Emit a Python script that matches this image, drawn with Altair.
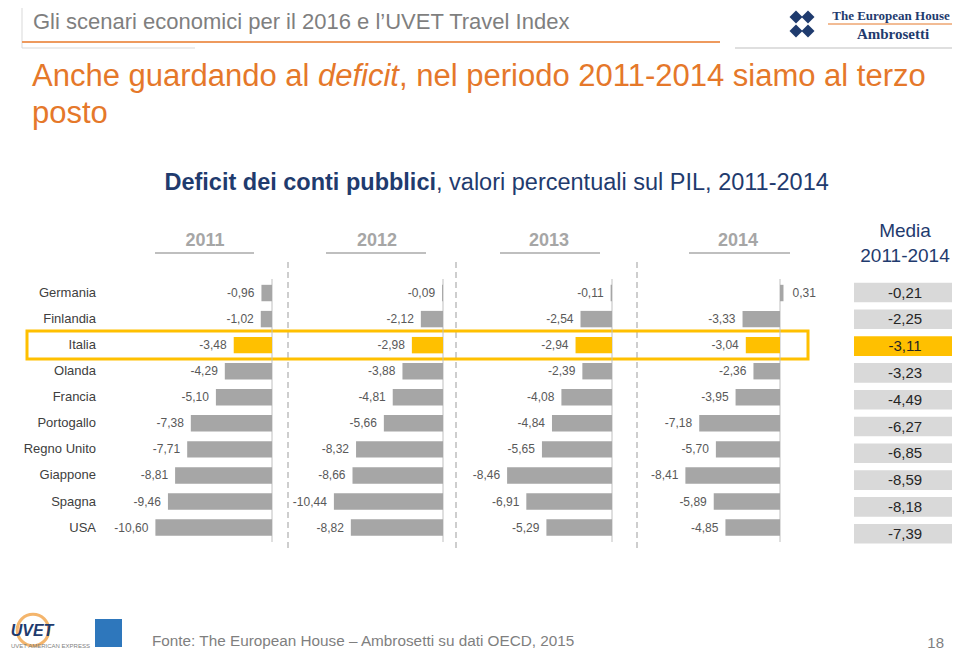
import altair as alt
import pandas as pd

# ---------------- data ----------------
countries = ["Germania", "Finlandia", "Italia", "Olanda", "Francia",
             "Portogallo", "Regno Unito", "Giappone", "Spagna", "USA"]
years = ["2011", "2012", "2013", "2014"]
v2011 = [-0.96, -1.02, -3.48, -4.29, -5.10, -7.38, -7.71, -8.81, -9.46, -10.60]
v2012 = [-0.09, -2.12, -2.98, -3.88, -4.81, -5.66, -8.32, -8.66, -10.44, -8.82]
v2013 = [-0.11, -2.54, -2.94, -2.39, -4.08, -4.84, -5.65, -8.46, -6.91, -5.29]
v2014 = [0.31, -3.33, -3.04, -2.36, -3.95, -7.18, -5.70, -8.41, -5.89, -4.85]
media = [-0.21, -2.25, -3.11, -3.23, -4.49, -6.27, -6.85, -8.59, -8.18, -7.39]
highlight = "Italia"


def fmt(v):
    return f"{v:.2f}".replace(".", ",")


rows = []
for yr, vals in zip(years, [v2011, v2012, v2013, v2014]):
    for c, v in zip(countries, vals):
        rows.append({"year": yr, "country": c, "value": v, "zero": 0.0, "label": fmt(v)})
df = pd.DataFrame(rows)
df_c = pd.DataFrame({"country": countries})
df_m = pd.DataFrame({"country": countries, "media": media,
                     "label": [fmt(v) for v in media], "col": ["Media"] * len(countries)})
ONE = pd.DataFrame({"a": [0]})

# ---------------- styles / layout ----------------
F = "Liberation Sans"
SERIF = "Liberation Serif"
GRAY = "#A6A6A6"
YEL = "#FFC000"
NAVY = "#1F3B6E"
ORANGE = "#E5782A"
OFF = 8


def P(v):
    return v - OFF


# page-pixel geometry of each panel: zero line position and pixels per unit
panel_zero = {"2011": 272, "2012": 443, "2013": 612, "2014": 780}
panel_ppu = {"2011": 11.0, "2012": 10.45, "2013": 12.4, "2014": 11.25}

ys_bars = alt.Scale(domain=countries, range=[P(280), P(540.6)],
                    paddingInner=0.37, paddingOuter=0.185)
ys_media = alt.Scale(domain=countries, range=[P(279.1), P(547.1)],
                     paddingInner=0.27, paddingOuter=0.135)


def txt(s, x, y, size, color, weight="normal", style="normal", align="left",
        baseline="alphabetic", font=F):
    return alt.Chart(ONE).mark_text(
        text=s, align=align, baseline=baseline, fontSize=size, color=color,
        fontWeight=weight, fontStyle=style, font=font
    ).encode(x=alt.value(P(x)), y=alt.value(P(y)))


def hline(x1, x2, y, color, w, dash=None):
    kw = dict(color=color, strokeWidth=w)
    if dash:
        kw["strokeDash"] = dash
    return alt.Chart(ONE).mark_rule(**kw).encode(
        x=alt.value(P(x1)), x2=alt.value(P(x2)), y=alt.value(P(y)))


def vline(x, y1, y2, color, w, dash=None):
    kw = dict(color=color, strokeWidth=w)
    if dash:
        kw["strokeDash"] = dash
    return alt.Chart(ONE).mark_rule(**kw).encode(
        x=alt.value(P(x)), y=alt.value(P(y1)), y2=alt.value(P(y2)))


def diamond(x, y, size, color):
    return alt.Chart(ONE).mark_point(
        shape="diamond", filled=True, color=color, size=size, opacity=1
    ).encode(x=alt.value(P(x)), y=alt.value(P(y)))


def panel(yr):
    z = panel_zero[yr]
    ppu = panel_ppu[yr]
    xs = alt.Scale(domain=[-11, 0], range=[P(z - 11 * ppu), P(z)], nice=False, zero=False)
    base = alt.Chart(df).transform_filter(alt.datum.year == yr)
    rule = alt.Chart(pd.DataFrame({"zero": [0.0]})).mark_rule(
        color="#BFBFBF", strokeWidth=1).encode(
        x=alt.X("zero:Q", scale=xs, axis=None),
        y=alt.value(P(279)), y2=alt.value(P(542)))
    bars = base.mark_bar().encode(
        x=alt.X("value:Q", scale=xs, axis=None),
        x2=alt.X2("zero"),
        y=alt.Y("country:N", scale=ys_bars, axis=None),
        color=alt.condition(alt.datum.country == highlight, alt.value(YEL), alt.value(GRAY)))
    lab_neg = base.transform_filter(alt.datum.value < 0).mark_text(
        align="right", baseline="middle", dx=-7, fontSize=12, color="#595959", font=F
    ).encode(x=alt.X("value:Q", scale=xs, axis=None),
             y=alt.Y("country:N", scale=ys_bars, axis=None), text="label:N")
    lab_pos = base.transform_filter(alt.datum.value >= 0).mark_text(
        align="left", baseline="middle", dx=9, fontSize=12, color="#595959", font=F
    ).encode(x=alt.X("value:Q", scale=xs, axis=None),
             y=alt.Y("country:N", scale=ys_bars, axis=None), text="label:N")
    return alt.layer(rule, bars, lab_neg, lab_pos)


panels = [panel(y) for y in years]

country_labels = alt.Chart(df_c).mark_text(
    align="right", baseline="middle", fontSize=13, color="#404040", font=F
).encode(x=alt.value(P(96)), y=alt.Y("country:N", scale=ys_bars, axis=None), text="country:N")

xs_media = alt.Scale(domain=["Media"], range=[P(854), P(956)], paddingInner=0, paddingOuter=0)
media_rect = alt.Chart(df_m).mark_rect().encode(
    x=alt.X("col:N", scale=xs_media, axis=None),
    y=alt.Y("country:N", scale=ys_media, axis=None),
    color=alt.condition(alt.datum.country == highlight, alt.value(YEL), alt.value("#D9D9D9")))
media_text = alt.Chart(df_m).mark_text(
    baseline="middle", fontSize=15, color="#262626", font=F
).encode(x=alt.X("col:N", scale=xs_media, axis=None),
         y=alt.Y("country:N", scale=ys_media, axis=None), text="label:N")
media_layer = alt.layer(media_rect, media_text)

# ---------------- decorations ----------------
decor = [
    # header
    vline(22, 8, 48, "#D9D9D9", 1),
    hline(22, 195, 48, "#D9D9D9", 1),
    hline(22, 720, 42, "#EE9A5E", 2),
    hline(735, 953, 48, "#BFBFBF", 1),
    txt("Gli scenari economici per il 2016 e l\u2019UVET Travel Index", 33, 29, 22, "#7F7F7F"),
    # logo
    diamond(796, 17, 170, NAVY),
    diamond(808, 17, 170, NAVY),
    diamond(796, 31, 170, NAVY),
    diamond(808, 31, 170, NAVY),
    diamond(802, 24, 60, "white"),
    txt("The European House", 891, 16, 13, NAVY, weight="bold", align="center", baseline="middle", font=SERIF),
    hline(828, 955, 24, ORANGE, 1),
    txt("Ambrosetti", 893, 34, 15, NAVY, weight="bold", align="center", baseline="middle", font=SERIF),
    # title
    txt("Anche guardando al", 32, 86, 31, ORANGE),
    txt("deficit", 318, 86, 31, ORANGE, style="italic"),
    txt(", nel periodo 2011-2014 siamo al terzo", 399, 86, 31, ORANGE),
    txt("posto", 32, 123, 31, ORANGE),
    # subtitle
    txt("Deficit dei conti pubblici", 436, 183, 23.5, NAVY, weight="bold", align="right", baseline="middle"),
    txt(", valori percentuali sul PIL, 2011-2014", 436, 183, 23.5, NAVY, align="left", baseline="middle"),
    # year headers
    txt("2011", 205, 241, 18, GRAY, weight="bold", align="center", baseline="middle"),
    txt("2012", 377, 241, 18, GRAY, weight="bold", align="center", baseline="middle"),
    txt("2013", 549, 241, 18, GRAY, weight="bold", align="center", baseline="middle"),
    txt("2014", 738, 241, 18, GRAY, weight="bold", align="center", baseline="middle"),
    hline(155, 254, 253, "#BFBFBF", 2),
    hline(326, 426, 253, "#BFBFBF", 2),
    hline(500, 600, 253, "#BFBFBF", 2),
    hline(689, 790, 253, "#BFBFBF", 2),
    txt("Media", 905, 231, 19, NAVY, align="center", baseline="middle"),
    txt("2011-2014", 905, 256, 19, NAVY, align="center", baseline="middle"),
    # separators
    vline(288, 262, 552, "#BFBFBF", 1.5, dash=[6, 4]),
    vline(456, 262, 552, "#BFBFBF", 1.5, dash=[6, 4]),
    vline(637, 262, 552, "#BFBFBF", 1.5, dash=[6, 4]),
    # highlight box
    alt.Chart(ONE).mark_rect(fill="transparent", stroke=YEL, strokeWidth=3).encode(
        x=alt.value(P(27)), x2=alt.value(P(808)), y=alt.value(P(331)), y2=alt.value(P(359))),
    # footer
    alt.Chart(ONE).mark_point(shape="circle", filled=False, color="#F0962E", size=1000, strokeWidth=3).encode(
        x=alt.value(P(33)), y=alt.value(P(630))),
    txt("UVET", 32, 631, 16, NAVY, weight="bold", style="italic", align="center", baseline="middle"),
    txt("UVET AMERICAN EXPRESS", 11, 646, 6, "#7F7F7F", baseline="middle"),
    alt.Chart(ONE).mark_rect(color="#2E77BC").encode(
        x=alt.value(P(95)), x2=alt.value(P(122)), y=alt.value(P(619)), y2=alt.value(P(647))),
    txt("Fonte: The European House \u2013 Ambrosetti su dati OECD, 2015", 152, 641, 15.3, "#7F7F7F", baseline="middle"),
    txt("18", 944, 643, 15, "#7F7F7F", align="right", baseline="middle"),
]

chart = alt.layer(
    *decor, *panels, country_labels, media_layer
).resolve_scale(
    x="independent", y="independent"
).properties(
    width=944, height=645, padding=0, autosize="none", background="white"
).configure_view(stroke=None)

chart.save("out.html", embed_options={"renderer": "svg", "actions": False})
